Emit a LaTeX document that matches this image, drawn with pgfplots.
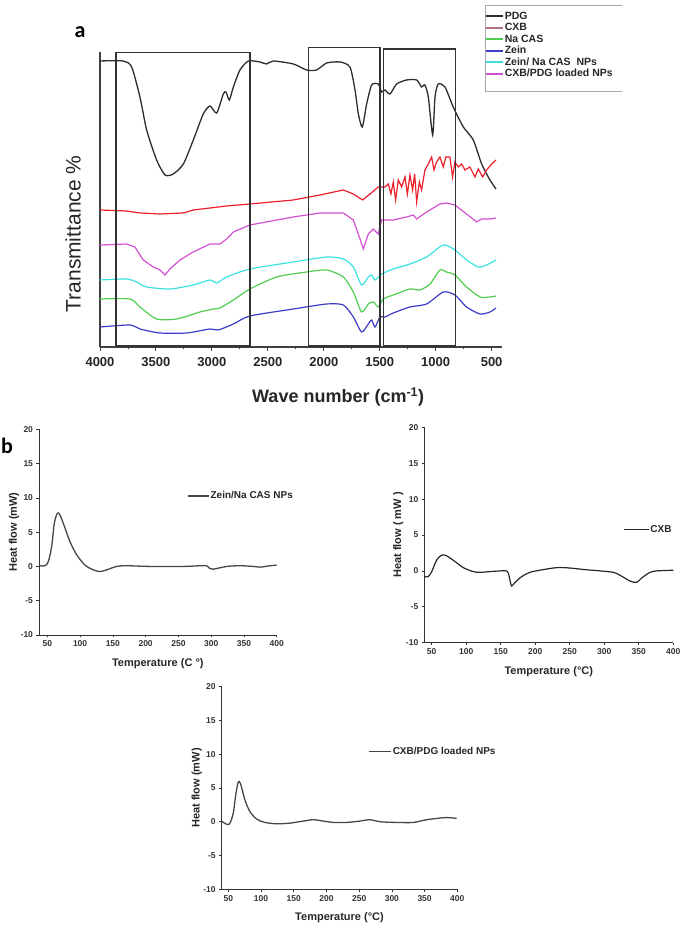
\documentclass[border=0pt]{standalone}
\usepackage{fontspec}
\setmainfont{Liberation Sans}
\newfontfamily\carlito{Carlito}
\usepackage{pgfplots}
\pgfplotsset{compat=1.18}

\definecolor{pdg}{RGB}{45,45,45}
\definecolor{cxb}{RGB}{238,32,42}
\definecolor{cxbleg}{RGB}{175,115,125}
\definecolor{nacas}{RGB}{80,205,80}
\definecolor{zein}{RGB}{60,60,200}
\definecolor{znps}{RGB}{60,225,225}
\definecolor{loaded}{RGB}{210,80,210}
\definecolor{dscline}{RGB}{70,70,70}

\pgfplotsset{
  dsc/.style={
    scale only axis, clip=false,
    axis x line=bottom, axis y line=left,
    axis line style={-, black!80, line width=0.8pt},
    xmax=400, ymin=-10, ymax=20,
    xtick={50,100,...,400}, ytick={-10,-5,...,20},
    tick align=outside, major tick length=2.5pt,
    tick style={black!80, line width=0.6pt},
    tick label style={font=\bfseries\fontsize{8.5}{9}\selectfont, text=black!80},
    /pgf/number format/assume math mode=true,
    label style={font=\bfseries\fontsize{11}{12}\selectfont, text=black!85},
    xlabel style={anchor=center}, ylabel style={anchor=center},
    legend style={draw=none, fill=none, anchor=west, inner sep=0pt,
      font=\bfseries\fontsize{10}{11}\selectfont, text=black!85,
      nodes={inner sep=1pt}},
  }
}

\begin{document}
\begin{tikzpicture}
\path[use as bounding box] (0pt,0pt) rectangle (685pt,928pt);

% ---------- a : FTIR ----------
\begin{axis}[
  at={(100pt,581pt)}, anchor=south west,
  scale only axis, width=401.7pt, height=295pt, clip=false,
  x dir=reverse, xmin=410, xmax=4000, ymin=0, ymax=295,
  axis x line=bottom, axis y line=left,
  axis line style={-, black!75, line width=1.2pt},
  xtick={500,1000,...,4000}, minor x tick num=1, ytick=\empty,
  tick align=outside, major tick length=4pt, minor tick length=2.5pt,
  tick style={black!75, line width=0.9pt},
  tick label style={font=\bfseries\fontsize{13}{14}\selectfont, text=black!85},
  xticklabel style={yshift=-3pt},
  /pgf/number format/assume math mode=true,
  /pgf/number format/1000 sep={},
  xlabel={Wave number (cm\textsuperscript{-1})},
  ylabel={Transmittance \%},
  xlabel style={font=\bfseries\fontsize{18}{20}\selectfont, text=black!85,
    at={(axis description cs:0.593,-0.1695)}, anchor=center},
  ylabel style={font=\fontsize{21}{24}\selectfont, text=black!85,
    at={(axis description cs:-0.0672,0.383)}, anchor=center},
  legend style={at={(axis description cs:0.9584,1.141)}, anchor=north west,
    draw=none, fill=none, inner sep=0pt, row sep=0pt,
    font=\bfseries\fontsize{10.5}{11}\selectfont, text=black!85,
    nodes={inner sep=0.8pt, text height=7.9pt, text depth=2pt}},
  legend cell align=left,
]
\addlegendimage{pdg, line width=1.7pt}\addlegendentry{PDG}
\addlegendimage{cxbleg, line width=1.7pt}\addlegendentry{CXB}
\addlegendimage{nacas, line width=1.7pt}\addlegendentry{Na CAS}
\addlegendimage{zein, line width=1.7pt}\addlegendentry{Zein}
\addlegendimage{znps, line width=1.7pt}\addlegendentry{Zein/ Na CAS\ \ NPs}
\addlegendimage{loaded, line width=1.7pt}\addlegendentry{CXB/PDG loaded NPs}

% PDG
\addplot[pdg, line width=1.3pt, smooth, tension=0.4, forget plot] coordinates {
(4000,286) (3792,286) (3717,280) (3643,250) (3583,217) (3494,187) (3419,172)
(3345,173) (3255,183) (3166,207) (3077,233) (3017,241) (2957,234) (2898,253)
(2874,255) (2844,247) (2808,260) (2749,277) (2674,286) (2570,285) (2511,283)
(2451,286) (2272,283) (2153,277) (2064,277) (1974,284) (1855,285) (1766,280)
(1721,257) (1691,233) (1656,220) (1617,243) (1572,262) (1513,263) (1483,255)
(1453,257) (1408,253) (1349,263) (1260,267) (1170,267) (1126,260) (1096,262)
(1066,250) (1027,212) (1006,250) (977,263) (917,260) (843,240) (753,220)
(664,207) (589,183) (515,167) (461,158)};

% CXB
\addplot[cxb, line width=1.2pt, forget plot] coordinates {
(4000,137) (3762,136) (3643,134) (3464,133) (3255,134) (3166,137) (2868,141)
(2660,143) (2272,147) (2034,152) (1825,157) (1736,153) (1653,147) (1587,153)
(1513,160) (1453,160) (1423,163) (1400,153) (1379,165) (1358,147) (1334,167)
(1304,160) (1274,170) (1253,153) (1230,172) (1206,157) (1188,173) (1170,145)
(1146,165) (1126,157) (1096,177) (1066,183) (1036,190) (1015,177) (992,185)
(962,190) (932,180) (909,190) (873,190) (849,170) (828,185) (798,180)
(768,183) (738,177) (694,180) (649,170) (619,178) (580,170) (545,177)
(500,183) (461,187)};

% CXB/PDG loaded NPs
\addplot[loaded, line width=1.2pt, forget plot] coordinates {
(4000,102) (3762,103) (3688,100) (3613,87) (3524,80) (3464,77) (3419,72)
(3375,78) (3285,87) (3166,95) (3017,103) (2957,103) (2928,103) (2868,108)
(2808,115) (2660,122) (2272,130) (2034,134) (1825,134) (1736,127) (1691,113)
(1647,98) (1602,113) (1557,118) (1513,113) (1483,127) (1379,127) (1260,130)
(1200,132) (1170,128) (1081,135) (962,143) (903,144) (828,142) (724,133)
(634,125) (589,128) (515,128) (461,129)};

% Zein/Na CAS NPs
\addplot[znps, line width=1.2pt, smooth, tension=0.4, forget plot] coordinates {
(4000,67) (3762,68) (3673,65) (3583,60) (3375,58) (3166,62) (3017,67)
(2957,64) (2868,70) (2660,78) (2272,85) (1974,90) (1825,88) (1736,80)
(1662,62) (1602,70) (1572,72) (1542,67) (1483,73) (1379,78) (1230,83)
(1081,90) (932,102) (828,97) (724,87) (619,80) (545,82) (461,87)};

% Na CAS
\addplot[nacas, line width=1.2pt, smooth, tension=0.4, forget plot] coordinates {
(4000,48) (3732,48) (3643,40) (3494,28) (3315,28) (3107,35) (2987,38)
(2928,39) (2808,47) (2660,58) (2421,70) (2153,75) (1974,77) (1825,70)
(1736,55) (1662,35) (1602,43) (1557,45) (1513,40) (1468,48) (1379,52)
(1230,58) (1141,57) (1051,63) (962,77) (903,75) (828,72) (724,60)
(604,50) (515,50) (461,51)};

% Zein
\addplot[zein, line width=1.2pt, smooth, tension=0.4, forget plot] coordinates {
(4000,20) (3732,22) (3643,18) (3464,14) (3226,14) (3017,18) (2943,17)
(2808,23) (2660,31) (2272,38) (1974,43) (1825,42) (1736,30) (1662,15)
(1602,23) (1572,27) (1542,20) (1498,30) (1453,30) (1379,34) (1230,40)
(1081,43) (932,55) (828,52) (724,40) (604,33) (515,35) (461,39)};

% framed regions
\draw[black!80, line width=1.2pt] (axis cs:3857,1) rectangle (axis cs:2660,294.7);
\draw[black!80, line width=1.2pt] (axis cs:2138,1) rectangle (axis cs:1498,299.7);
\draw[black!80, line width=1.2pt] (axis cs:1468,1) rectangle (axis cs:826,298);
\end{axis}

% legend frame
\draw[black!35, line width=1pt] (622pt,922pt) -- (485pt,922pt) -- (485pt,836pt) -- (622pt,836pt);

\node[font=\carlito\bfseries\fontsize{22}{24}\selectfont] at (80pt,896pt) {a};
\node[font=\carlito\bfseries\fontsize{22}{24}\selectfont] at (7pt,482pt) {b};

% ---------- b1 : Zein/Na CAS NPs ----------
\begin{axis}[dsc,
  at={(39pt,293pt)}, anchor=south west, width=237.7pt, height=205.7pt,
  xmin=37.3,
  xlabel={Temperature (C \textdegree)}, ylabel={Heat flow (mW)},
  xlabel style={at={(axis description cs:0.5,-0.141)}},
  ylabel style={at={(axis description cs:-0.105,0.5)}},
  legend style={at={(axis cs:263,10.3)}},
  legend image code/.code={\draw[dscline, line width=1.5pt] (0pt,0pt) -- (21pt,0pt);},
]
\addplot[dscline, line width=1.3pt, smooth, tension=0.5] coordinates {
(38.8,0.1) (46.4,0.1) (51.5,0.7) (56.6,2.9) (60.7,6.3) (65.3,7.75) (69.3,7.5)
(77,5.6) (84.6,3.6) (94.8,1.7) (107.5,0.2) (120,-0.5) (130.4,-0.75) (140.6,-0.5)
(155.8,0) (171,0.1) (206.7,0.0) (257.6,0) (283,0.1) (293,0.1) (298,-0.3)
(303,-0.4) (324,0) (344,0.1) (364.5,0) (374.7,-0.1) (390,0.1) (400,0.2)};
\addlegendentry{Zein/Na CAS NPs}
\end{axis}

% ---------- b2 : CXB ----------
\begin{axis}[dsc,
  at={(424.3pt,285.3pt)}, anchor=south west, width=249pt, height=215.4pt,
  xmin=39.3,
  xlabel={Temperature (\textdegree C)}, ylabel={Heat flow ( mW )},
  xlabel style={at={(axis description cs:0.5,-0.135)}},
  ylabel style={at={(axis description cs:-0.1044,0.5)}},
  legend style={at={(axis cs:327,5.74)}},
  legend image code/.code={\draw[black!85, line width=1.3pt] (0pt,0pt) -- (25pt,0pt);},
]
\addplot[black!85, line width=1.2pt, smooth, tension=0.5] coordinates {
(39.4,-0.8) (45,-0.8) (50,-0.1) (57.2,1.5) (64.5,2.2) (71.7,2.1) (83.8,1.3)
(95.9,0.45) (110.3,-0.1) (120,-0.2) (134.5,-0.1) (149,0.0) (158.6,0.0)
(161,-0.3) (163.4,-1.3) (165.9,-2.1) (170.7,-1.6) (180.3,-0.8) (192.4,-0.2)
(206.9,0.1) (231,0.45) (250.3,0.4) (269.6,0.2) (293.8,0.0) (313,-0.2)
(322.7,-0.6) (337.2,-1.4) (346.9,-1.6) (354,-1.0) (366.2,-0.2) (375.9,0)
(388,0.05) (400,0.1)};
\addlegendentry{CXB}
\end{axis}

% ---------- b3 : CXB/PDG loaded NPs ----------
\begin{axis}[dsc,
  at={(221.7pt,38.7pt)}, anchor=south west, width=235.6pt, height=202.6pt,
  xmin=39.9,
  xlabel={Temperature (\textdegree C)}, ylabel={Heat flow (mW)},
  xlabel style={at={(axis description cs:0.5,-0.138)}},
  ylabel style={at={(axis description cs:-0.106,0.5)}},
  legend style={at={(axis cs:263.6,10.4)}},
  legend image code/.code={\draw[dscline, line width=1.5pt] (0pt,0pt) -- (22pt,0pt);},
]
\addplot[dscline, line width=1.3pt, smooth, tension=0.5] coordinates {
(39.9,0.1) (42.4,-0.1) (48.5,-0.4) (52.5,-0.2) (57.6,1.3) (61.7,4.2) (65.3,5.9)
(68.8,5.6) (75.5,3.2) (83.1,1.5) (93.3,0.4) (106,-0.1) (123.9,-0.3)
(144.2,-0.2) (164.6,0.1) (179.9,0.3) (195.2,0.1) (210.5,-0.1) (230.8,-0.1)
(251.2,0.1) (266.5,0.3) (281.8,0) (307,-0.1) (332.7,-0.1) (353,0.3)
(378.6,0.6) (388.8,0.6) (399,0.5)};
\addlegendentry{CXB/PDG loaded NPs}
\end{axis}
\end{tikzpicture}
\end{document}
